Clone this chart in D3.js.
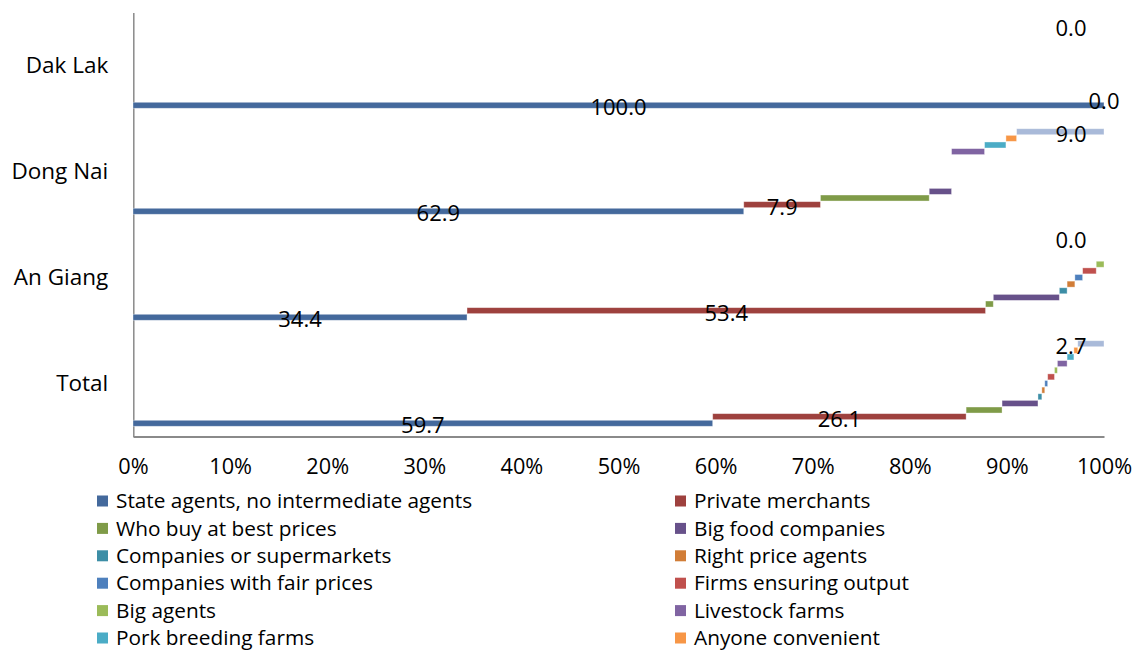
<!DOCTYPE html>
<html>
<head>
<meta charset="utf-8">
<script src="https://cdn.jsdelivr.net/npm/d3@7"></script>
<style>
  body { margin: 0; background: #fff; }
  svg text { font-family: "Open Sans", "Liberation Sans", Arial, sans-serif; fill: #000; }
</style>
</head>
<body>
<svg id="chart" width="1143" height="651"></svg>
<script>
// categories, top to bottom
var categories = ["Dak Lak", "Dong Nai", "An Giang", "Total"];

// series names (the last one has no legend entry in the original)
var seriesNames = [
  "State agents, no intermediate agents", "Private merchants",
  "Who buy at best prices", "Big food companies",
  "Companies or supermarkets", "Right price agents",
  "Companies with fair prices", "Firms ensuring output",
  "Big agents", "Livestock farms",
  "Pork breeding farms", "Anyone convenient",
  "Other"
];

var seriesColors = [
  "#44699C", "#9E413E", "#7F9B48", "#67518A", "#3D8EA6", "#D17D37",
  "#4E80BD", "#C0504D", "#9BBB59", "#8064A2", "#4BACC6", "#F79646",
  "#A9BAD9"
];

// percentage shares, one array per category, in series order
var dakLak  = [100.0, 0.0, 0, 0, 0, 0, 0, 0, 0, 0, 0, 0, 0.0];
var dongNai = [62.9, 7.9, 11.2, 2.3, 0, 0, 0, 0, 0, 3.4, 2.2, 1.1, 9.0];
var anGiang = [34.4, 53.4, 0.8, 6.8, 0.8, 0.8, 0.8, 1.4, 0.8, 0, 0, 0, 0.0];
var total   = [59.7, 26.1, 3.7, 3.7, 0.4, 0.3, 0.3, 0.7, 0.3, 1.0, 0.7, 0.4, 2.7];

var values = [dakLak, dongNai, anGiang, total];

// which series get a data label
var labelled = [0, 1, 12];

var xTicks = [0, 10, 20, 30, 40, 50, 60, 70, 80, 90, 100];

var svg = d3.select("#chart");

var x = d3.scaleLinear().domain([0, 100]).range([133, 1104]);
var y = d3.scaleBand().domain(categories).range([12.5, 436.5]).padding(0);

var depthStep = 6.63,   // vertical shift between consecutive series
    barH = 6,
    nS = seriesNames.length;

function barCenter(cat, s) {
  return y(cat) + y.bandwidth() / 2 + ((nS - 1) / 2 - s) * depthStep;
}

// build stacked segments
var segs = [];
categories.forEach(function(c, ci) {
  var acc = 0;
  values[ci].forEach(function(v, s) {
    segs.push({cat: c, s: s, x0: acc, x1: acc + v, v: v});
    acc += v;
  });
});

// axes
var gx = svg.append("g")
  .attr("transform", "translate(0," + 436.5 + ")")
  .call(d3.axisBottom(x).tickValues(xTicks).tickSize(0).tickSizeOuter(0).tickPadding(22)
    .tickFormat(function(d) { return d + "%"; }));
gx.select(".domain").attr("stroke", "#8A8A8A").attr("stroke-width", 2);
gx.selectAll("text").style("font-size", "21.7px").style("font-family", "Open Sans, sans-serif");

var gy = svg.append("g")
  .attr("transform", "translate(" + 133.3 + ",0)")
  .call(d3.axisLeft(y).tickSize(0).tickSizeOuter(0).tickPadding(25));
gy.select(".domain").attr("stroke", "#8A8A8A").attr("stroke-width", 1.5);
gy.selectAll("text").style("font-size", "22.5px").style("font-family", "Open Sans, sans-serif")
  .attr("dy", "0.35em");

// bars
svg.append("g").selectAll("rect")
  .data(segs.filter(function(d) { return d.v > 0; }))
  .enter().append("rect")
  .attr("x", function(d) { return x(d.x0); })
  .attr("width", function(d) { return x(d.x1) - x(d.x0); })
  .attr("y", function(d) { return barCenter(d.cat, d.s) - barH / 2; })
  .attr("height", barH)
  .attr("fill", function(d) { return seriesColors[d.s]; })
  .attr("stroke", "#ffffff")
  .attr("stroke-opacity", 0.45)
  .attr("stroke-width", 0.8);

// data labels
svg.append("g").selectAll("text")
  .data(segs.filter(function(d) { return labelled.indexOf(d.s) >= 0; }))
  .enter().append("text")
  .attr("x", function(d) {
    if (d.s === nS - 1) return x(100) - 33;
    return x((d.x0 + d.x1) / 2);
  })
  .attr("y", function(d) { return barCenter(d.cat, d.s) + 2.5; })
  .attr("dy", "0.35em")
  .attr("text-anchor", "middle")
  .style("font-size", "22px")
  .text(function(d) { return d.v.toFixed(1); });

// legend (12 entries, two columns)
var legendItems = seriesNames.slice(0, 12);
var leg = svg.append("g").selectAll("g")
  .data(legendItems)
  .enter().append("g")
  .attr("transform", function(d, i) {
    var col = i % 2, row = Math.floor(i / 2);
    return "translate(" + (col === 0 ? 97 : 675) + "," + (501 + row * 27.4) + ")";
  });

leg.append("rect")
  .attr("x", 0).attr("y", -5.5)
  .attr("width", 11).attr("height", 11)
  .attr("fill", function(d, i) { return seriesColors[i]; });

leg.append("text")
  .attr("x", 19)
  .attr("dy", "0.35em")
  .style("font-size", "20.8px")
  .text(function(d) { return d; });
</script>
</body>
</html>
